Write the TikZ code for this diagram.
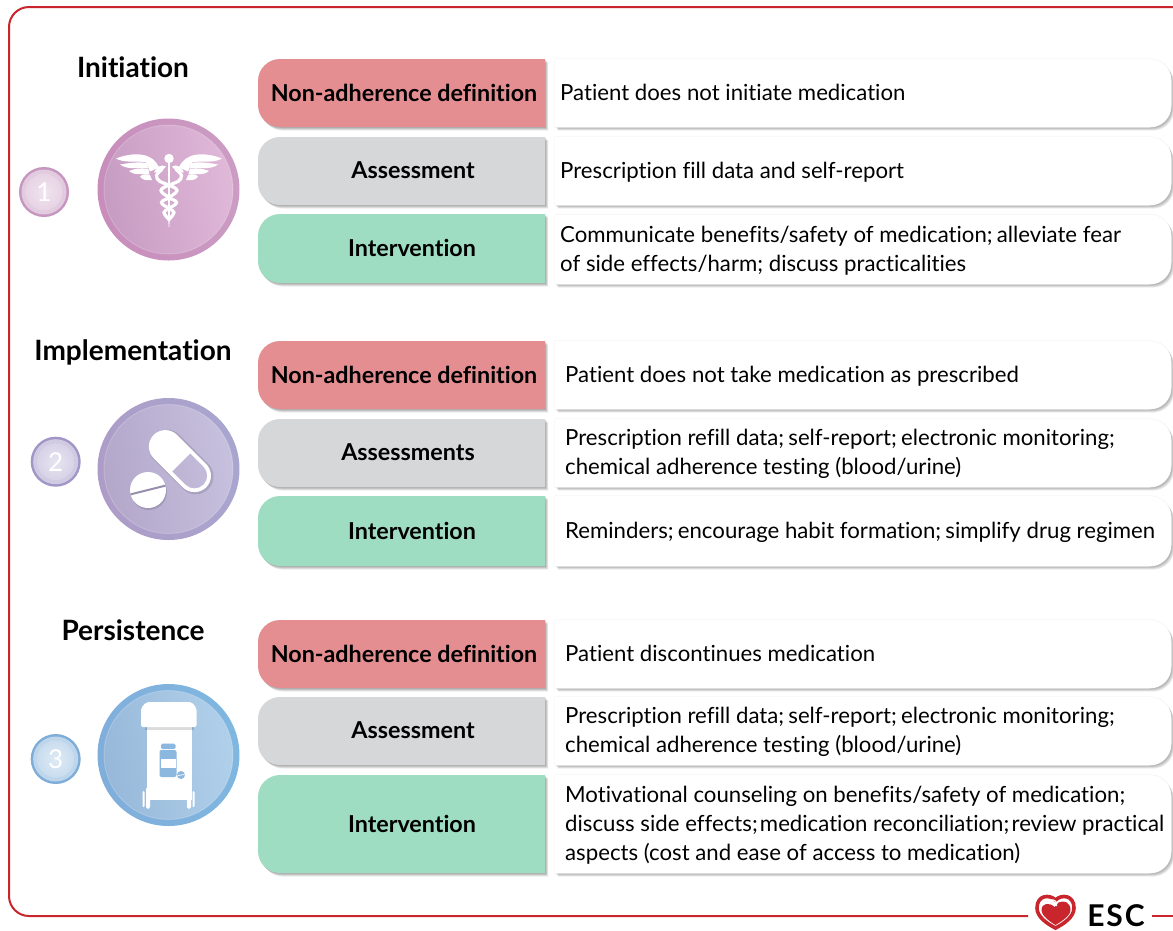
\documentclass[tikz,border=0pt]{standalone}
\usepackage{fontspec}
\setmainfont{Lato}[Ligatures=NoCommon]
\usetikzlibrary{calc}
\definecolor{framered}{HTML}{C9252D}
\definecolor{defred}{HTML}{E58E92}
\definecolor{assgray}{HTML}{D6D7D9}
\definecolor{intgreen}{HTML}{9FDDC3}
\definecolor{ringA}{HTML}{C88DBB}\definecolor{ringAb}{HTML}{CB9CC4}\definecolor{inA}{HTML}{C79CC3}\definecolor{inAb}{HTML}{E0B8D8}
\definecolor{ringB}{HTML}{AD9CC7}\definecolor{ringBb}{HTML}{A8A6CF}\definecolor{inB}{HTML}{B3A7CA}\definecolor{inBb}{HTML}{C7C0DE}
\definecolor{ringC}{HTML}{80AEDB}\definecolor{ringCb}{HTML}{7FB7E0}\definecolor{inC}{HTML}{98B8DA}\definecolor{inCb}{HTML}{B0D0EA}
\definecolor{numA}{HTML}{C695C0}\definecolor{numB}{HTML}{A196C6}\definecolor{numC}{HTML}{7EADD8}
\newcommand{\nsp}{\kern-1.5pt }
\newcommand{\nspp}{\kern-3.5pt }
\tikzset{
  headtxt/.style={font=\fontsize{28}{32}\selectfont\bfseries,text=black,inner sep=0pt,anchor=base},
  lefttxt/.style={font=\fontsize{23.3}{27}\selectfont\bfseries,text=black,inner sep=0pt},
  righttxt/.style={font=\fontsize{22.2}{29}\selectfont,text=black,inner sep=0pt,anchor=west,align=left},
  numtxt/.style={font=\fontsize{26}{30}\selectfont,text=white,inner sep=0pt},
  ico/.style={fill=white,draw=none},
}
\newcommand{\softshadow}[1]{%
  \foreach \dd in {0,1,2,3,4}{\fill[black,opacity=.07,shift={(\dd*.6+.8,\dd*.7+.8)}] #1;}}
\newcommand{\leftbox}[6]{%
  \def\pth{(545,#2) -- (280,#2) arc[start angle=270,end angle=180,radius=22] -- (258,#3-22) arc[start angle=180,end angle=90,radius=22] -- (545,#3) -- cycle}
  \softshadow{\pth}
  \fill[#4] \pth;
  \node[lefttxt] (#1) at (#5,{(#2+#3)/2-.5}) {#6};}
\newcommand{\rightbox}[5]{%
  \def\pth{(555,#2) -- (1150,#2) arc[start angle=270,end angle=360,radius=21] -- (1171,#3-21) arc[start angle=0,end angle=90,radius=21] -- (555,#3) -- cycle}
  \softshadow{\pth}
  \draw[black!6,line width=1pt] \pth;
  \fill[white] \pth;
  \node[righttxt] (#1) at (#4,{(#2+#3)/2+1.5}) {\strut #5\strut};}
\newcommand{\bigdisc}[7]{%
  \shade[left color=#4,right color=#5,shading angle=100] (#2,#3) circle[radius=71];
  \shade[left color=#6,right color=#7,shading angle=100] (#2,#3) circle[radius=64.5];
  \draw[white,opacity=.2,line width=1pt] (#2,#3) circle[radius=64.5];
  \coordinate (#1) at (#2,#3);}
\newcommand{\smalldisc}[5]{%
  \fill[#4] (#2,#3) circle[radius=25];
  \fill[#4!50!white] (#2,#3) circle[radius=22.5];
  \shade[inner color=#4!25!white,outer color=#4!42!white] (#2,#3) circle[radius=18.5];
  \node[numtxt] (#1) at (#2,#3) {#5};}
\begin{document}
\begin{tikzpicture}[x=1pt,y=-1pt]
\useasboundingbox (0,0) rectangle (1173,930);
\fill[white] (0,0) rectangle (1173,930);
% frame
\coordinate (fa) at (1173,7);
\coordinate (fb) at (1028,916);
\coordinate (fc) at (1152,916);
\coordinate (fd) at (1173,916);
\draw[framered,line width=2pt] (fa) -- (29,7) arc[start angle=270,end angle=180,radius=20] -- (9,896) arc[start angle=180,end angle=90,radius=20] -- (fb);
\draw[framered,line width=2pt] (fc) -- (fd);
% Section 1
\node[headtxt] (h1) at (133,77.5) {Initiation};
\leftbox{a1}{59}{127}{defred}{404}{Non-adherence definition}
\rightbox{b1}{59}{127}{560}{Patient does not initiate medication}
\leftbox{a2}{137}{205}{assgray}{413}{Assessment}
\rightbox{b2}{137}{205}{560}{Prescription fill data and self-report}
\leftbox{a3}{214}{283}{intgreen}{412}{Intervention}
\rightbox{b3}{214.5}{284}{560}{Communicate benefits/safety of medication; \nsp alleviate fear\\of side effects/harm; discuss practicalities}
% Section 2
\node[headtxt] (h2) at (133,360.5) {Implementation};
\leftbox{c1}{341}{409}{defred}{404}{Non-adherence definition}
\rightbox{d1}{341}{409}{565}{Patient does not take medication as prescribed}
\leftbox{c2}{419}{487}{assgray}{408}{Assessments}
\rightbox{d2}{419}{487}{565}{Prescription refill data; \nsp self-report; \nsp electronic monitoring;\\chemical adherence testing (blood/urine)}
\leftbox{c3}{496}{566}{intgreen}{412}{Intervention}
\rightbox{d3}{496}{566}{565}{Reminders; \nsp encourage habit formation; \nsp simplify drug regimen}
% Section 3
\node[headtxt] (h3) at (133,640.5) {Persistence};
\leftbox{e1}{620}{688}{defred}{404}{Non-adherence definition}
\rightbox{f1}{620}{688}{565}{Patient discontinues medication}
\leftbox{e2}{697}{765}{assgray}{413}{Assessment}
\rightbox{f2}{697}{765}{565}{Prescription refill data; \nsp self-report; \nsp electronic monitoring;\\chemical adherence testing (blood/urine)}
\leftbox{e3}{775}{873}{intgreen}{412}{Intervention}
\rightbox{f3}{775}{873}{565}{Motivational counseling on benefits/safety of medication;\\discuss side effects; \nspp medication reconciliation; \nspp review practical\\aspects (cost and ease of access to medication)}
% discs
\bigdisc{p1}{168.5}{189.5}{ringA}{ringAb}{inA}{inAb}
\smalldisc{n1}{44}{192}{numA}{1}
\bigdisc{p2}{168.5}{469}{ringB}{ringBb}{inB}{inBb}
\smalldisc{n2}{55.7}{461.7}{numB}{2}
\bigdisc{p3}{168.5}{755}{ringC}{ringCb}{inC}{inCb}
\smalldisc{n3}{55.7}{759}{numC}{3}
% caduceus
\begin{scope}[shift={(p1)}]
 \fill[ico] (0.5,-31) circle[radius=4.7];
 \fill[ico] (-0.5,-27) -- (1.5,-27) -- (1.3,30) -- (0.7,38) -- (0.3,38) -- (-0.3,30) -- cycle;
 \foreach \s in {-1,1}{\begin{scope}[shift={(.5,0)},xscale=\s]
  \fill[ico] (10,-22) .. controls (16,-37) and (35,-38) .. (53,-31) .. controls (45,-26) and (32,-29) .. (23,-27.2) -- (19,-18) -- cycle;
  \fill[ico] (22,-26.4) .. controls (30,-28) and (40,-26.5) .. (49,-25) .. controls (41,-19) and (30,-22.5) .. (21,-21) -- cycle;
  \fill[ico] (20.5,-20.2) .. controls (28,-22) and (34,-21) .. (40,-18.5) .. controls (33,-13) and (27,-16.5) .. (19.5,-15) -- cycle;
  \fill[ico] (19,-14.3) .. controls (23,-16) and (27,-15.5) .. (29,-13) .. controls (26,-8.5) and (22,-9.5) .. (17,-9.5) -- cycle;
  \draw[white,line width=3.2pt,line cap=round] plot[smooth,tension=.7] coordinates {(7,-20) (12.5,-14) (9,-8) (0,-4.5) (-8,1) (0,8) (7.5,13) (0,19) (-5,23) (0,30)};
  \fill[ico] (3,-23) .. controls (8,-26) and (13,-22) .. (15,-17) -- (8,-18) -- cycle;
 \end{scope}}
\end{scope}
% pills
\begin{scope}[shift={(p2)}]
 \begin{scope}[shift={(12,-7.3)},rotate=-45]
  \draw[black,opacity=.12,line width=2.5pt,shift={(1.6,-.3)}] (-21.4,-16.5) arc[start angle=270,end angle=90,radius=16.5] -- (19.7,16.5) arc[start angle=90,end angle=-90,radius=16.5] -- cycle;
  \fill[ico,even odd rule] (-21.4,-16.5) arc[start angle=270,end angle=90,radius=16.5] -- (19.7,16.5) arc[start angle=90,end angle=-90,radius=16.5] -- cycle
    (1,-12.8) -- (19.7,-12.8) arc[start angle=-90,end angle=90,radius=12.8] -- (1,12.8) -- cycle;
 \end{scope}
 \fill[black,opacity=.13] (-19.5,23) circle[radius=18];
 \fill[ico] (-20.5,21) circle[radius=18];
 \draw[inB!85!black,line width=2pt] (-38,25.4) -- (-3,16.6);
\end{scope}
% bottle
\begin{scope}[shift={(p3)}]
 \fill[ico] (-22,-30) rectangle (23,44.5);
 \fill[black,opacity=.14] (-24,-28) rectangle (25,-25);
 \fill[ico,rounded corners=2pt] (-27.5,-28) -- (-27.5,-47) -- (-22,-53) -- (23,-53) -- (28,-47) -- (28,-28) -- cycle;
 \foreach \s in {-1,1}{
  \fill[ico,rounded corners=1.8pt] (\s*18.5,32) rectangle (\s*22.5,54);
  \fill[ico,rounded corners=1pt] (\s*24,36) rectangle (\s*26,52);
 }
 \fill[ringC!75!inCb,rounded corners=1.5pt] (-7.5,-11.5) rectangle (7,-6);
 \fill[ringC!75!inCb,rounded corners=2pt] (-9,-5) rectangle (8,22);
 \fill[ico] (-7.5,4) rectangle (7,13);
 \fill[ringC!75!inCb] (12.5,20) circle[radius=4];
 \draw[white,line width=.7pt] (9,20.5) -- (16,19.5);
\end{scope}
% ESC logo
\begin{scope}[shift={(1055.5,912)}]
 \draw[framered,line width=3.6pt] (0,-12) .. controls (-6,-18) and (-18.5,-17) .. (-18.5,-4) .. controls (-18.5,5) and (-8,12) .. (0,16) .. controls (8,12) and (18.5,5) .. (18.5,-4) .. controls (18.5,-17) and (6,-18) .. (0,-12) -- cycle;
 \fill[framered] (-1,-5) .. controls (-6,-10) and (-14,-9) .. (-14,-2) .. controls (-14,4) and (-5,10) .. (0,13) .. controls (5,10) and (15,4) .. (15,-2) .. controls (15,-10) and (8,-12) .. (3,-9.5) -- (1,-7) -- cycle;
 \draw[white,line width=1.2pt] (-5,-12) .. controls (-1,-13) and (2,-10) .. (1,-6);
\end{scope}
\node[font=\fontsize{30}{34}\selectfont\bfseries,text=black,inner sep=0pt,anchor=base,text height=22pt,text depth=0pt] (esc) at (1116,926.5) {\addfontfeatures{LetterSpace=6}ESC};
\end{tikzpicture}
\end{document}
